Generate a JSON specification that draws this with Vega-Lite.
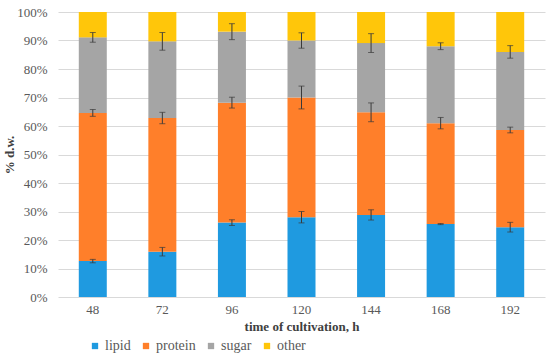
{
  "$schema": "https://vega.github.io/schema/vega-lite/v6.json",
  "width": 487,
  "height": 285,
  "padding": {"left": 3, "top": 6, "right": 4, "bottom": 2},
  "config": {
    "font": "Liberation Serif",
    "view": {"stroke": null},
    "axis": {"labelFont": "Liberation Serif", "titleFont": "Liberation Serif"},
    "legend": {"labelFont": "Liberation Serif", "titleFont": "Liberation Serif"}
  },
  "data": {"values": [
    {"time": "48", "component": "lipid", "idx": 1, "value": 12.6, "err": 0.6},
    {"time": "48", "component": "protein", "idx": 2, "value": 52.0, "err": 1.2},
    {"time": "48", "component": "sugar", "idx": 3, "value": 26.5, "err": 1.7},
    {"time": "48", "component": "other", "idx": 4, "value": 8.9, "err": 0},
    {"time": "72", "component": "lipid", "idx": 1, "value": 15.9, "err": 1.5},
    {"time": "72", "component": "protein", "idx": 2, "value": 46.9, "err": 2.0},
    {"time": "72", "component": "sugar", "idx": 3, "value": 26.9, "err": 3.1},
    {"time": "72", "component": "other", "idx": 4, "value": 10.3, "err": 0},
    {"time": "96", "component": "lipid", "idx": 1, "value": 26.1, "err": 1.0},
    {"time": "96", "component": "protein", "idx": 2, "value": 42.1, "err": 1.9},
    {"time": "96", "component": "sugar", "idx": 3, "value": 24.9, "err": 2.8},
    {"time": "96", "component": "other", "idx": 4, "value": 6.9, "err": 0},
    {"time": "120", "component": "lipid", "idx": 1, "value": 28.0, "err": 2.0},
    {"time": "120", "component": "protein", "idx": 2, "value": 42.0, "err": 4.0},
    {"time": "120", "component": "sugar", "idx": 3, "value": 20.0, "err": 2.7},
    {"time": "120", "component": "other", "idx": 4, "value": 10.0, "err": 0},
    {"time": "144", "component": "lipid", "idx": 1, "value": 28.8, "err": 1.8},
    {"time": "144", "component": "protein", "idx": 2, "value": 36.0, "err": 3.3},
    {"time": "144", "component": "sugar", "idx": 3, "value": 24.3, "err": 3.3},
    {"time": "144", "component": "other", "idx": 4, "value": 10.9, "err": 0},
    {"time": "168", "component": "lipid", "idx": 1, "value": 25.6, "err": 0.2},
    {"time": "168", "component": "protein", "idx": 2, "value": 35.4, "err": 2.0},
    {"time": "168", "component": "sugar", "idx": 3, "value": 27.0, "err": 1.2},
    {"time": "168", "component": "other", "idx": 4, "value": 12.0, "err": 0},
    {"time": "192", "component": "lipid", "idx": 1, "value": 24.5, "err": 1.7},
    {"time": "192", "component": "protein", "idx": 2, "value": 34.1, "err": 1.0},
    {"time": "192", "component": "sugar", "idx": 3, "value": 27.4, "err": 2.2},
    {"time": "192", "component": "other", "idx": 4, "value": 14.0, "err": 0}
  ]},
  "layer": [
    {
      "mark": {"type": "bar", "width": 28},
      "encoding": {
        "x": {
          "field": "time", "type": "ordinal",
          "sort": ["48", "72", "96", "120", "144", "168", "192"],
          "scale": {"paddingInner": 0.6, "paddingOuter": 0.3},
          "axis": {
            "labelAngle": 0, "labelFont": "Liberation Serif", "labelFontSize": 13, "labelColor": "#595959", "labelPadding": 6,
            "ticks": false, "domain": false,
            "title": "time of cultivation,  h", "titleFont": "Liberation Serif", "titleFontSize": 13, "titleFontWeight": "bold",
            "titleColor": "#404040", "titlePadding": 4
          }
        },
        "y": {
          "field": "value", "type": "quantitative", "stack": "zero",
          "scale": {"domain": [0, 100]},
          "title": "% d.w.",
          "axis": {
            "values": [0, 10, 20, 30, 40, 50, 60, 70, 80, 90, 100],
            "labelExpr": "datum.value + '%'",
            "labelFont": "Liberation Serif", "labelFontSize": 13, "labelColor": "#595959", "labelPadding": 11,
            "ticks": false, "domain": false, "gridColor": "#d9d9d9",
            "titleFont": "Liberation Serif", "titleFontSize": 13, "titleFontWeight": "bold",
            "titleColor": "#404040", "titlePadding": 0
          }
        },
        "color": {
          "field": "component", "type": "nominal",
          "scale": {
            "domain": ["lipid", "protein", "sugar", "other"],
            "range": ["#1f9ae0", "#ff7f2a", "#a5a5a5", "#ffc60a"]
          },
          "legend": {
            "orient": "none", "legendX": 30, "legendY": 327, "direction": "horizontal", "title": null,
            "symbolType": "square", "symbolSize": 40, "labelFont": "Liberation Serif", "labelFontSize": 14,
            "labelColor": "#595959", "columnPadding": 8, "labelOffset": 3
          }
        },
        "order": {"field": "idx", "type": "quantitative"}
      }
    },
    {
      "transform": [
        {"stack": "value", "groupby": ["time"], "sort": [{"field": "idx", "order": "ascending"}], "as": ["y0", "y1"]},
        {"filter": "datum.component != 'other'"}
      ],
      "mark": {"type": "errorbar", "color": "#3a3a3a", "ticks": {"size": 6, "color": "#3a3a3a"}},
      "encoding": {
        "x": {"field": "time", "type": "ordinal", "sort": ["48", "72", "96", "120", "144", "168", "192"]},
        "y": {
          "field": "y1", "type": "quantitative",
          "title": "% d.w.",
          "axis": {
            "values": [0, 10, 20, 30, 40, 50, 60, 70, 80, 90, 100],
            "labelExpr": "datum.value + '%'",
            "labelFont": "Liberation Serif", "labelFontSize": 13, "labelColor": "#595959", "labelPadding": 11,
            "ticks": false, "domain": false, "gridColor": "#d9d9d9",
            "titleFont": "Liberation Serif", "titleFontSize": 13, "titleFontWeight": "bold",
            "titleColor": "#404040", "titlePadding": 0
          }
        },
        "yError": {"field": "err"}
      }
    }
  ]
}
